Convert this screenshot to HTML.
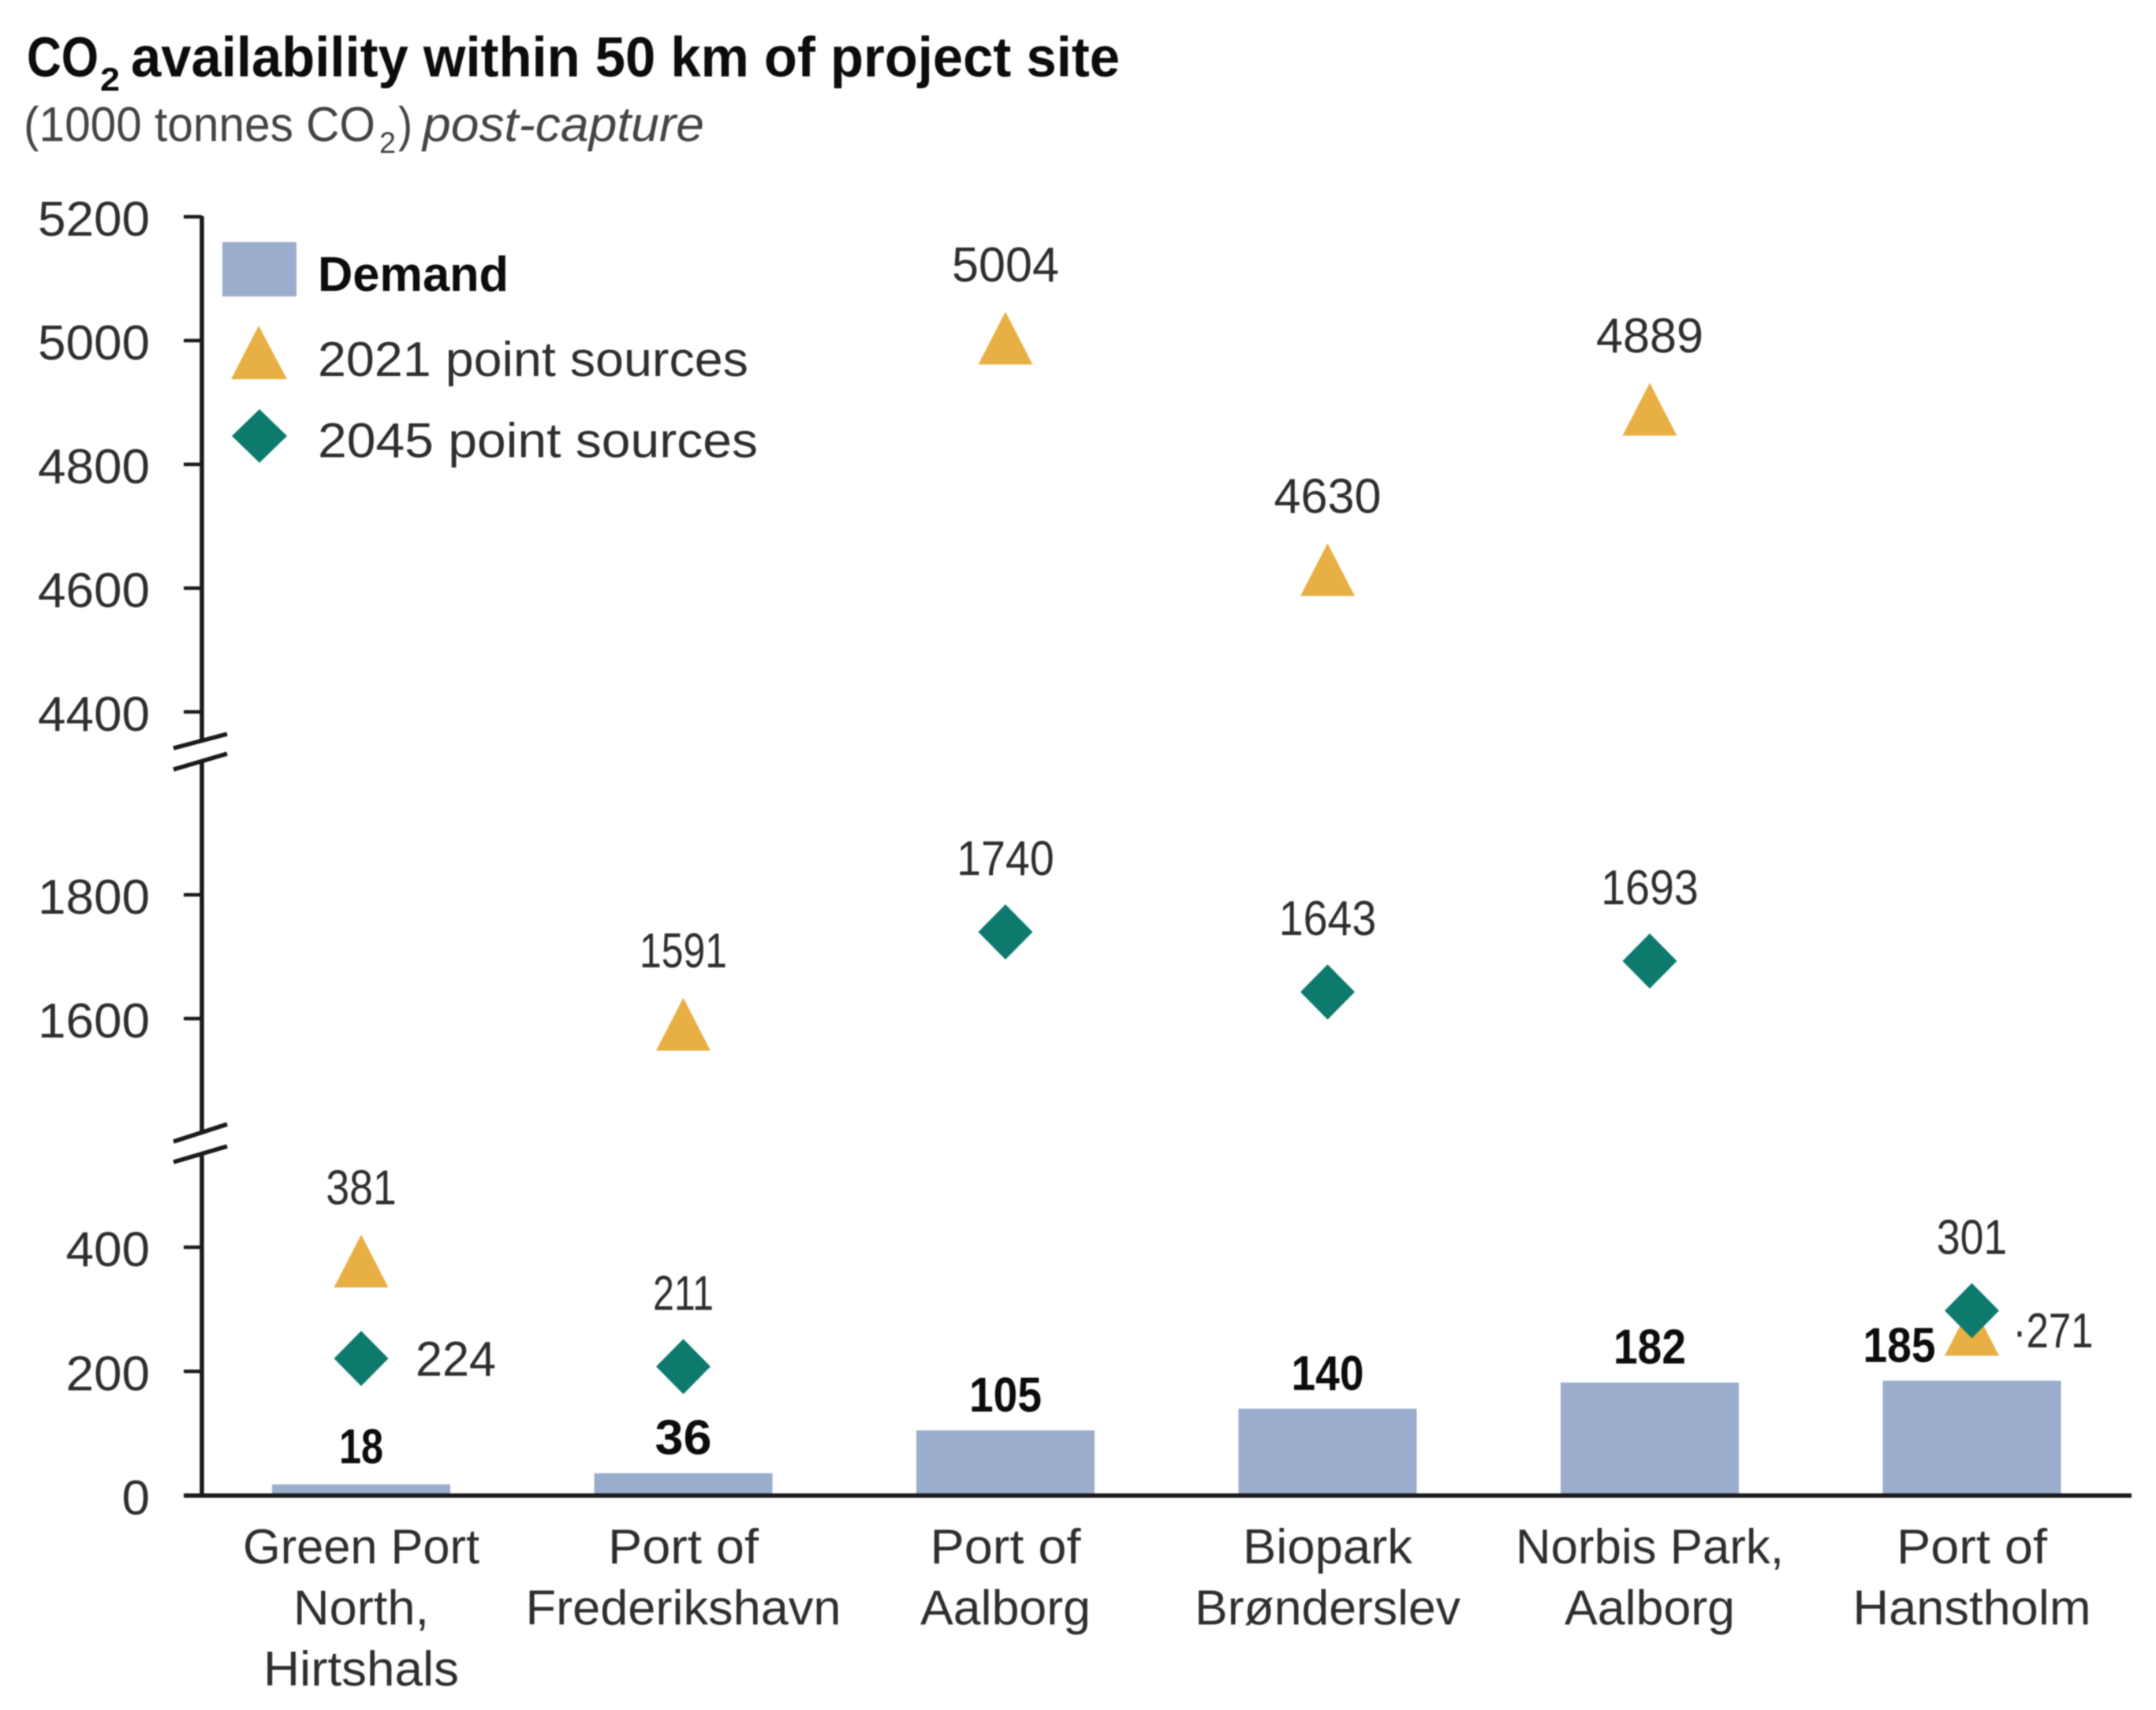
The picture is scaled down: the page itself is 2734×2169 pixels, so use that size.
<!DOCTYPE html>
<html lang="en">
<head>
<meta charset="utf-8">
<title>CO2 availability within 50 km of project site</title>
<style>
html,body{margin:0;padding:0;background:#fff;}
#chart{display:block;width:2734px;height:2169px;filter:blur(0.7px);}
text{font-family:"Liberation Sans",sans-serif;font-size:62px;fill:#2e2e2e;}
.bold{font-weight:700;fill:#0c0c0c;}
</style>
</head>
<body>
<svg id="chart" xmlns="http://www.w3.org/2000/svg" width="2734" height="2169" viewBox="0 0 2734 2169">
  <rect x="0" y="0" width="2734" height="2169" fill="#ffffff"/>

  <g>
    <text class="bold" x="34" y="97" style="font-size:71px" textLength="91" lengthAdjust="spacingAndGlyphs">CO</text>
    <text class="bold" x="127" y="115" style="font-size:42px" textLength="25" lengthAdjust="spacingAndGlyphs">2</text>
    <text class="bold" x="166" y="97" style="font-size:71px" textLength="1254" lengthAdjust="spacingAndGlyphs">availability within 50 km of project site</text>
  </g>
  <g>
    <text x="30" y="179" style="fill:#444" textLength="446" lengthAdjust="spacingAndGlyphs">(1000 tonnes CO</text>
    <text x="481" y="194" style="fill:#444;font-size:38px" textLength="21" lengthAdjust="spacingAndGlyphs">2</text>
    <text x="505" y="179" style="fill:#444" textLength="18" lengthAdjust="spacingAndGlyphs">)</text>
    <text x="536" y="179" style="fill:#444;font-style:italic" textLength="357" lengthAdjust="spacingAndGlyphs">post-capture</text>
  </g>

  <g id="bars"></g>

  <g stroke="#1a1a1a" stroke-width="5.5" fill="none">
    <line x1="256" y1="274" x2="256" y2="938"/>
    <line x1="256" y1="966" x2="256" y2="1435"/>
    <line x1="256" y1="1466" x2="256" y2="1897"/>
    <line x1="220" y1="949" x2="288" y2="931"/>
    <line x1="220" y1="976" x2="288" y2="956"/>
    <line x1="220" y1="1448" x2="288" y2="1426"/>
    <line x1="220" y1="1474" x2="288" y2="1454"/>
    <line x1="233" y1="1897" x2="2703" y2="1897"/>
  </g>
  <g id="ticks"></g>
  <g id="categories"></g>
  <g id="marks2021"></g>
  <g id="marks2045"></g>
  <g id="values"></g>

  <g>
    <g>
      <rect x="282" y="307" width="94" height="69" fill="#9badcc"/>
      <text class="bold" x="403" y="369" textLength="242" lengthAdjust="spacingAndGlyphs">Demand</text>
    </g>
    <g>
      <polygon points="328,413 364,481 293,481" fill="#e8b044"/>
      <text x="403" y="477" textLength="546" lengthAdjust="spacingAndGlyphs">2021 point sources</text>
    </g>
    <g>
      <polygon points="329,519 364,553 329,587 294,553" fill="#0e7a6e"/>
      <text x="403" y="580" textLength="558" lengthAdjust="spacingAndGlyphs">2045 point sources</text>
    </g>
  </g>
</svg>

<script>
// ---- chart data ----
const categories = [
  ['Green Port', 'North,', 'Hirtshals'],
  ['Port of', 'Frederikshavn'],
  ['Port of', 'Aalborg'],
  ['Biopark', 'Brønderslev'],
  ['Norbis Park,', 'Aalborg'],
  ['Port of', 'Hanstholm']
];
const demand = [18, 36, 105, 140, 182, 185];
const points2021 = [381, 1591, 5004, 4630, 4889, 271];
const points2045 = [224, 211, 1740, 1643, 1693, 301];
const tickLabels = [0, 200, 400, 1600, 1800, 4400, 4600, 4800, 5000, 5200];

// ---- axis functions ----
const SVG_NS = 'http://www.w3.org/2000/svg';
const X_START = 458;
const X_STEP = 408.5;
const BAR_WIDTH = 226;
const MARK_W = 69;
const MARK_H = 67;

function xPos(i) {
  return X_START + X_STEP * i;
}
function yPos(v) {
  if (v >= 3000) return 432 + (5000 - v) * 0.785;
  if (v >= 1000) return 1292 - (v - 1600) * 0.785;
  return 1897 - v * 0.7875;
}
function markY(v) {
  return yPos(v) + (v < 1000 ? 2.5 : 0);
}
function textWidth(s, bold) {
  let w = 0;
  for (const c of String(s)) {
    if (c === '1') w += bold ? 20 : 21.5;
    else w += bold ? 36 : 34;
  }
  return w;
}
function makeText(parent, str, x, y, anchor, width) {
  const t = document.createElementNS(SVG_NS, 'text');
  t.setAttribute('x', x);
  t.setAttribute('y', y);
  t.setAttribute('text-anchor', anchor);
  t.setAttribute('textLength', width);
  t.setAttribute('lengthAdjust', 'spacingAndGlyphs');
  t.textContent = str;
  parent.appendChild(t);
  return t;
}

// ---- ticks ----
const tickGroup = document.getElementById('ticks');
tickLabels.forEach(function (v) {
  const y = yPos(v);
  const line = document.createElementNS(SVG_NS, 'line');
  line.setAttribute('x1', 233);
  line.setAttribute('x2', 256);
  line.setAttribute('y1', y);
  line.setAttribute('y2', y);
  line.setAttribute('stroke', '#1a1a1a');
  line.setAttribute('stroke-width', 4.5);
  
  
  tickGroup.appendChild(line);
  const label = makeText(tickGroup, String(v), 190, y + 24, 'end', String(v).length * 35.5);
  
  
});

// ---- category labels ----
const categoryGroup = document.getElementById('categories');
const lineWidths = {
  'Green Port': 300, 'North,': 172, 'Hirtshals': 248, 'Port of': 191,
  'Frederikshavn': 400, 'Aalborg': 216, 'Biopark': 215, 'Brønderslev': 337,
  'Norbis Park,': 340, 'Hanstholm': 302
};
categories.forEach(function (lines, i) {
  lines.forEach(function (str, j) {
    const label = makeText(categoryGroup, str, xPos(i), 1983 + j * 77.5, 'middle', lineWidths[str]);
    
    
  });
});

// ---- demand bars ----
const barGroup = document.getElementById('bars');
const valueGroup = document.getElementById('values');
demand.forEach(function (v, i) {
  const top = yPos(v);
  const bar = document.createElementNS(SVG_NS, 'rect');
  bar.setAttribute('x', xPos(i) - BAR_WIDTH / 2);
  bar.setAttribute('y', top);
  bar.setAttribute('width', BAR_WIDTH);
  bar.setAttribute('height', 1897 - top);
  bar.setAttribute('fill', '#9badcc');
  
  
  barGroup.appendChild(bar);
  const shifted = i === demand.length - 1;
  const labelX = shifted ? xPos(i) - 92 : xPos(i);
  const label = makeText(valueGroup, String(v), labelX, top - (i === 0 ? 27 : 24), 'middle', textWidth(v, true));
  label.setAttribute('class', 'bold');
  
  
});

// ---- 2021 point sources (triangles) ----
const group2021 = document.getElementById('marks2021');
points2021.forEach(function (v, i) {
  const x = xPos(i);
  const y = markY(v);
  const tri = document.createElementNS(SVG_NS, 'polygon');
  tri.setAttribute('points',
    x + ',' + (y - MARK_H / 2) + ' ' +
    (x + MARK_W / 2) + ',' + (y + MARK_H / 2) + ' ' +
    (x - MARK_W / 2) + ',' + (y + MARK_H / 2));
  tri.setAttribute('fill', '#e8b044');
  
  
  group2021.appendChild(tri);
  let label;
  if (i === points2021.length - 1) {
    label = makeText(valueGroup, '·' + v, x + 52, y + 23, 'start', 102);
  } else {
    label = makeText(valueGroup, String(v), x, y - 72, 'middle', textWidth(v, false));
  }
  
  
});

// ---- 2045 point sources (diamonds) ----
const group2045 = document.getElementById('marks2045');
points2045.forEach(function (v, i) {
  const x = xPos(i);
  const y = markY(v);
  const dia = document.createElementNS(SVG_NS, 'polygon');
  dia.setAttribute('points',
    x + ',' + (y - 35) + ' ' +
    (x + MARK_W / 2) + ',' + y + ' ' +
    x + ',' + (y + 35) + ' ' +
    (x - MARK_W / 2) + ',' + y);
  dia.setAttribute('fill', '#0e7a6e');
  
  
  group2045.appendChild(dia);
  let label;
  if (i === 0) {
    label = makeText(valueGroup, String(v), x + 69, y + 22, 'start', textWidth(v, false));
  } else {
    label = makeText(valueGroup, String(v), x, y - 72, 'middle', textWidth(v, false));
  }
  
  
});
</script>
</body>
</html>
